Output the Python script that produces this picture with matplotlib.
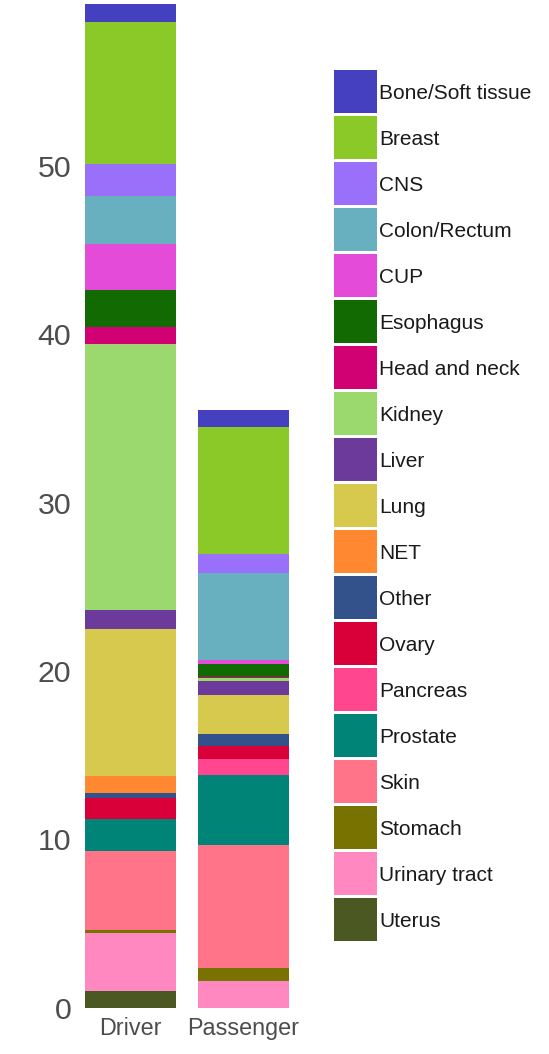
import matplotlib
matplotlib.use("Agg")
import matplotlib.pyplot as plt
from matplotlib.patches import Rectangle

plt.rcParams['font.family'] = ['Liberation Sans', 'DejaVu Sans']

# ---- data ----
groups = ["Driver", "Passenger"]
categories = ["Bone/Soft tissue", "Breast", "CNS", "Colon/Rectum", "CUP", "Esophagus",
              "Head and neck", "Kidney", "Liver", "Lung", "NET", "Other", "Ovary",
              "Pancreas", "Prostate", "Skin", "Stomach", "Urinary tract", "Uterus"]
colors = ["#4540C0", "#8AC928", "#9A70FA", "#68B0C0", "#E34BD8", "#126A02",
          "#D10073", "#9BD86E", "#6C3A9B", "#D6C94E", "#FF8830", "#33528C", "#D9003A",
          "#FF468E", "#008478", "#FF7489", "#787200", "#FF88C0", "#4B5822"]
driver = [1.07, 8.43, 1.9, 2.85, 2.73, 2.2, 1.02, 15.78, 1.13, 8.73, 1.01, 0.28, 1.27,
          0.0, 1.9, 4.69, 0.2, 3.42, 1.0]
passenger = [1.01, 7.52, 1.16, 5.15, 0.24, 0.77, 0.04, 0.2, 0.83, 2.32, 0.0, 0.71, 0.76,
             0.95, 4.16, 7.31, 0.77, 1.59, 0.0]
yticks = [0, 10, 20, 30, 40, 50]

W, H = 549, 1054
fig = plt.figure(figsize=(W / 100, H / 100), dpi=100)
ax = fig.add_axes([74 / W, 46.3 / H, 226 / W, 1007.7 / H])

xpos = [1, 2]
bottoms = [0.0, 0.0]
# stack from the last category (bottom) up to the first (top)
for i in reversed(range(len(categories))):
    vals = [driver[i], passenger[i]]
    ax.bar(xpos, vals, width=0.8, bottom=bottoms, color=colors[i], linewidth=0)
    bottoms = [b + v for b, v in zip(bottoms, vals)]

ax.set_xlim(0.5, 2.5)
ax.set_ylim(0, 59.84)
ax.set_xticks(xpos)
ax.set_xticklabels(groups, fontsize=16.8, color="#4D4D4D")
ax.set_yticks(yticks)
ax.set_yticklabels([str(t) for t in yticks], fontsize=21.8, color="#4D4D4D")
ax.tick_params(axis="both", length=0)
ax.tick_params(axis="y", pad=2)
ax.tick_params(axis="x", pad=7)
for s in ax.spines.values():
    s.set_visible(False)

# legend: square keys stacked down the right side (pixel layout)
key_left, key_w, key_h, step, first_top = 334, 43, 43, 46, 70
for i, (cat, col) in enumerate(zip(categories, colors)):
    top = first_top + i * step
    fig.add_artist(Rectangle((key_left / W, 1 - (top + key_h) / H), key_w / W, key_h / H,
                             transform=fig.transFigure, facecolor=col, edgecolor="none"))
    fig.text((key_left + key_w + 2) / W, 1 - (top + 29) / H, cat,
             fontsize=15, color="#1A1A1A", va="baseline", ha="left")

fig.savefig("out.png", dpi=100)
